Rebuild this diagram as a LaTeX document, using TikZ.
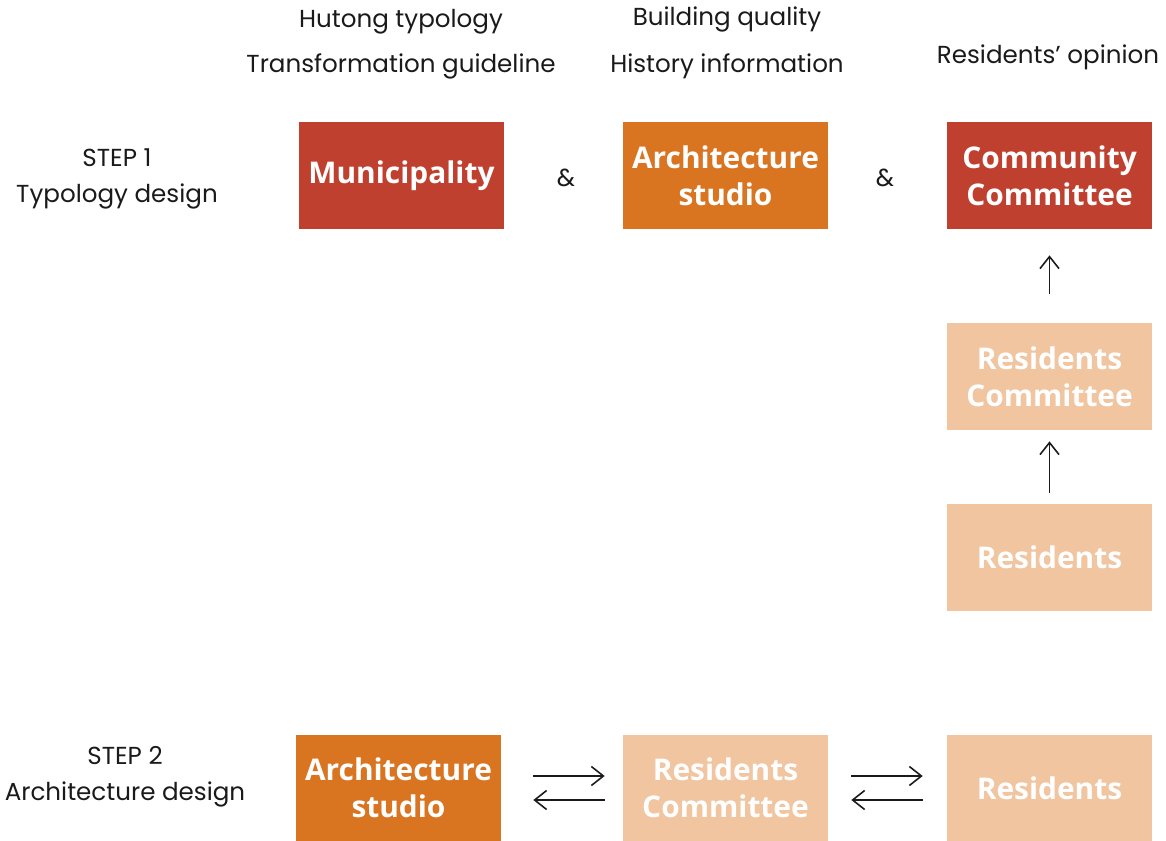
\documentclass[tikz,border=0pt]{standalone}
\usepackage{fontspec}
\setmainfont{Poppins}
\newfontfamily\boxfont{Open Sans}
\usetikzlibrary{arrows.meta,positioning}
\definecolor{brick}{HTML}{C0402F}
\definecolor{studio}{HTML}{D97421}
\definecolor{peach}{HTML}{F0C5A0}
\definecolor{ink}{HTML}{1A1A1A}
\tikzset{
    actor/.style={
        minimum width=4.1cm,
        minimum height=2.14cm,
        inner sep=0pt,
        align=center,
        text=white,
        font=\boxfont\bfseries\fontsize{17}{21}\selectfont
    },
    info/.style={
        color=ink,
        align=center,
        inner sep=0pt,
        font=\fontsize{14}{20.5}\selectfont
    },
    flow/.style={
        -{Straight Barb[length=2.4mm,width=3.8mm]},
        line width=0.9pt,
        color=ink
    }
}

\begin{document}
\begin{tikzpicture}[x=0.02cm,y=-0.02cm]

    \useasboundingbox (0,0) rectangle (1166,841);

    % Step 1 actors
    \node[actor,fill=brick] (mun) at (401.5,175.5) {Municipality};
    \node[actor,fill=studio] (arch) at (725.5,175.5) {Architecture\\studio};
    \node[actor,fill=brick] (comm) at (1049.5,175.5) {Community\\Committee};
    \node[actor,fill=peach] (rescom) at (1049.5,376.5) {Residents\\Committee};
    \node[actor,fill=peach] (res) at (1049.5,557.5) {Residents};

    % Step 2 actors
    \node[actor,fill=studio] (arch2) at (398.5,788) {Architecture\\studio};
    \node[actor,fill=peach] (rescom2) at (725.5,788) {Residents\\Committee};
    \node[actor,fill=peach] (res2) at (1049.5,788) {Residents};

    % Inputs
    \node[info] (hutong) at (401,22) {Hutong typology};
    \node[info] (guide) at (401,66) {Transformation guideline};
    \node[info] (quality) at (727,19) {Building quality};
    \node[info] (history) at (727,66) {History information};
    \node[info] (opinion) at (1048,57) {Residents’ opinion};

    % Steps
    \node[info] (step1) at (117,179) {STEP 1\\Typology design};
    \node[info] (step2) at (125,777) {STEP 2\\Architecture design};

    % And
    \node[info] (and1) at (566,178) {\&};
    \node[info] (and2) at (885,178) {\&};

    % Bottom up
    \draw[flow,shorten <=0.58cm,shorten >=0.52cm]
        (rescom.north) -- (comm.south);
    \draw[flow,shorten <=0.22cm,shorten >=0.22cm]
        (res.north) -- (rescom.south);

    % Back and forth
    \draw[flow,shorten <=0.64cm,shorten >=0.36cm]
        ([yshift=0.24cm]arch2.east) -- ([yshift=0.24cm]rescom2.west);
    \draw[flow,shorten <=0.36cm,shorten >=0.64cm]
        ([yshift=-0.24cm]rescom2.west) -- ([yshift=-0.24cm]arch2.east);
    \draw[flow,shorten <=0.46cm,shorten >=0.48cm]
        ([yshift=0.24cm]rescom2.east) -- ([yshift=0.24cm]res2.west);
    \draw[flow,shorten <=0.48cm,shorten >=0.46cm]
        ([yshift=-0.24cm]res2.west) -- ([yshift=-0.24cm]rescom2.east);

\end{tikzpicture}
\end{document}
